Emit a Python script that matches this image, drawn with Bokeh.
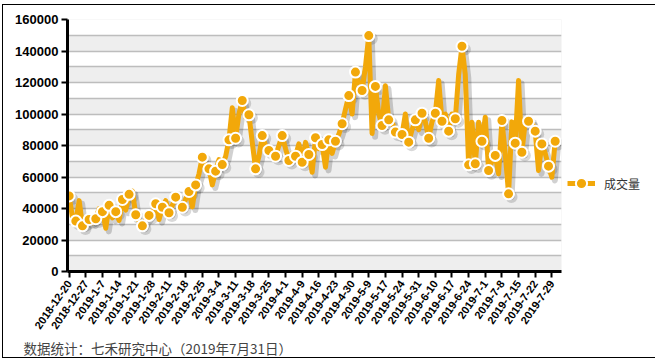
from bokeh.plotting import figure
from bokeh.models import (Range1d, FixedTicker, SingleIntervalTicker, NumeralTickFormatter,
                          Legend, LegendItem, Title, ColumnDataSource)
from bokeh.transform import dodge
from bokeh.embed import file_html
from bokeh.resources import INLINE
import math

# ---- data ----
tick_labels = ["2018-12-20", "2018-12-27", "2019-1-7", "2019-1-14", "2019-1-21", "2019-1-28",
               "2019-2-11", "2019-2-18", "2019-2-25", "2019-3-4", "2019-3-11", "2019-3-18",
               "2019-3-25", "2019-4-1", "2019-4-9", "2019-4-16", "2019-4-23", "2019-4-30",
               "2019-5-9", "2019-5-17", "2019-5-24", "2019-5-31", "2019-6-10", "2019-6-17",
               "2019-6-24", "2019-7-1", "2019-7-8", "2019-7-15", "2019-7-22", "2019-7-29"]
label_step = 5

volume = [48000, 34000, 32000, 45000, 29000, 30000, 33000, 31000, 33500, 40000,
          38000, 27500, 42000, 34000, 38000, 32500, 45700, 39000, 49000, 51000,
          36000, 32000, 29000, 33000, 35600, 38000, 43000, 33000, 40800, 45000,
          37300, 42000, 47200, 44000, 40800, 46000, 50800, 41000, 55000, 62000,
          72600, 66000, 65200, 55000, 63700, 71000, 67900, 73000, 83600, 104000,
          84600, 100000, 108600, 98000, 99500, 82000, 65200, 73000, 86300, 80000,
          76800, 75000, 73200, 80000, 86300, 78000, 70500, 75000, 73200, 81000,
          69400, 82000, 74300, 63000, 84900, 78000, 80600, 66200, 83600, 75000,
          82700, 87000, 93800, 103000, 111700, 100000, 126600, 120000, 114900, 130000,
          149800, 87600, 117500, 100000, 92700, 118000, 96300, 95000, 88500, 86000,
          87000, 100000, 82100, 90000, 96300, 90000, 100500, 95000, 84600, 95000,
          100500, 121300, 95400, 100000, 89100, 100000, 97000, 125000, 143000, 125000,
          67700, 94800, 68400, 94800, 82700, 98000, 64100, 70000, 73700, 62000,
          95900, 75000, 49300, 95000, 81500, 121300, 75700, 95000, 95400, 95000,
          89100, 64100, 81000, 75000, 66900, 59900, 82700]

series_name = "成交量"
footer = "数据统计：七禾研究中心（2019年7月31日）"

idx = list(range(len(volume)))
src = ColumnDataSource(dict(x=idx, y=volume))
msrc = ColumnDataSource(dict(x=idx[::2], y=volume[::2]))

ORANGE = "#F2A80A"

p = figure(frame_width=494, frame_height=252, output_backend="svg", toolbar_location=None,
           x_range=Range1d(-0.5, len(volume) + 0.9), y_range=Range1d(0, 160000),
           min_border_left=64, min_border_right=89, min_border_top=14, min_border_bottom=85)
p.outline_line_color = None
p.background_fill_color = "#EEEEEE"
p.border_fill_color = "white"
p.styles = {"border": "1px solid #000000", "margin-left": "2px", "margin-top": "4px"}

# grid
p.xgrid.visible = False
p.ygrid.ticker = SingleIntervalTicker(interval=10000)
p.ygrid.grid_line_color = "#BDBDBD"
p.ygrid.grid_line_width = 1.5
p.ygrid.band_fill_color = "white"
p.ygrid.band_fill_alpha = 1

# shadows
p.line(x=dodge("x", 0.9), y=dodge("y", -2000), source=src, line_color="#000000",
       line_alpha=0.18, line_width=6, line_join="round")
p.scatter(x=dodge("x", 0.9), y=dodge("y", -2000), source=msrc, size=12,
          fill_color="#000000", fill_alpha=0.15, line_color=None)

lr = p.line(x="x", y="y", source=src, line_color=ORANGE, line_width=5, line_join="round")
sr = p.scatter(x="x", y="y", source=msrc, size=11, fill_color=ORANGE,
               line_color="white", line_width=2)

# axes
for ax in (p.xaxis[0], p.yaxis[0]):
    ax.axis_line_width = 3
    ax.axis_line_color = "black"
    ax.major_tick_line_width = 2
    ax.major_tick_line_color = "black"
    ax.major_tick_out = 6
    ax.major_tick_in = 0
    ax.minor_tick_line_color = None
    ax.major_label_text_font = "Liberation Sans"
    ax.major_label_text_font_style = "bold"
    ax.major_label_text_color = "black"

p.yaxis.ticker = SingleIntervalTicker(interval=20000, num_minor_ticks=0)
p.yaxis.formatter = NumeralTickFormatter(format="0")
p.yaxis.major_label_text_font_size = "13px"
p.yaxis.major_label_standoff = 3

tick_pos = [i * label_step for i in range(len(tick_labels))]
p.xaxis.ticker = FixedTicker(ticks=tick_pos)
p.xaxis.major_label_overrides = {t: l for t, l in zip(tick_pos, tick_labels)}
p.xaxis.major_label_orientation = math.radians(55)
p.xaxis.major_label_text_font_size = "11px"
p.xaxis.major_label_standoff = 4

legend = Legend(items=[LegendItem(label=series_name, renderers=[lr, sr])],
                location=(6, 74), padding=0, margin=0, spacing=0,
                glyph_width=28, glyph_height=28, label_standoff=9,
                border_line_color=None, background_fill_alpha=0,
                label_text_font="Noto Sans CJK SC", label_text_font_size="12px",
                label_text_color="#333333")
p.add_layout(legend, "right")

p.add_layout(Title(text=footer, align="left", offset=-44, standoff=0,
                   text_font="Noto Sans CJK SC", text_font_size="13.5px",
                   text_font_style="normal", text_color="#444444"), "below")

open("out.html", "w").write(file_html(p, INLINE))
